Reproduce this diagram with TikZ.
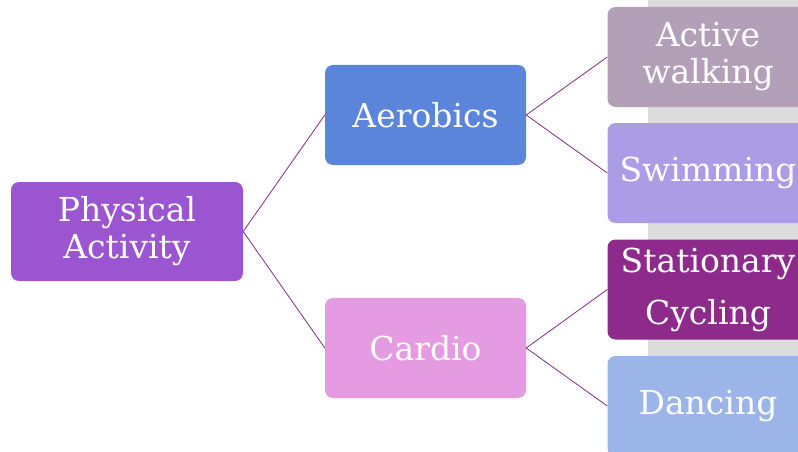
\documentclass[tikz,border=0pt]{standalone}
\usepackage{fontspec}
\setmainfont{DejaVu Serif}
\definecolor{physc}{HTML}{9B55D0}
\definecolor{aeroc}{HTML}{5B84DB}
\definecolor{cardc}{HTML}{E49BE1}
\definecolor{walkc}{HTML}{B3A0B8}
\definecolor{swimc}{HTML}{AB9CE6}
\definecolor{cyclc}{HTML}{8F2A8D}
\definecolor{dancc}{HTML}{9BB5E8}
\definecolor{linkc}{HTML}{7E2D80}
\definecolor{stripc}{HTML}{DCDCDC}
\begin{document}
\begin{tikzpicture}[x=1pt, y=-1pt,
  box/.style={rectangle, rounded corners=8pt, minimum width=201pt, minimum height=100pt, inner sep=0pt, align=center, text=white, font=\fontsize{33}{37}\selectfont},
  link/.style={draw=linkc, line width=0.8pt}]
\useasboundingbox (0,0) rectangle (798,452);
\clip (0,0) rectangle (798,452);
\fill [stripc] (648,0) rectangle (798,452);
\node (phys) at (127,231.5) [box, fill=physc, minimum width=232pt, minimum height=99pt] {Physical\\Activity};
\node (aero) at (425.5,115) [box, fill=aeroc] {Aerobics};
\node (card) at (425.5,348) [box, fill=cardc] {Cardio};
\node (walk) at (708,57) [box, fill=walkc] {Active\\walking};
\node (swim) at (708,173) [box, fill=swimc] {Swimming};
\node (cycl) at (708,289.5) [box, fill=cyclc, font=\fontsize{33}{52}\selectfont] {Stationary\\Cycling};
\node (danc) at (708,406) [box, fill=dancc] {Dancing};
\draw [link] (phys.east) -- (aero.west);
\draw [link] (phys.east) -- (card.west);
\draw [link] (aero.east) -- (walk.west);
\draw [link] (aero.east) -- (swim.west);
\draw [link] (card.east) -- (cycl.west);
\draw [link] (card.east) -- (danc.west);
\end{tikzpicture}
\end{document}
